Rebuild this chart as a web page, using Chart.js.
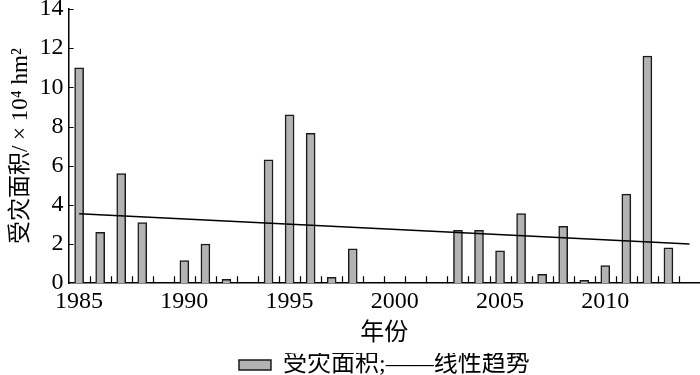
<!DOCTYPE html>
<html>
<head>
<meta charset="utf-8">
<script src="https://cdn.jsdelivr.net/npm/chart.js@4"></script>
<style>
  html, body { margin: 0; padding: 0; background: #fff; }
  #wrap { width: 700px; height: 375px; }
</style>
</head>
<body>
<div id="wrap"><canvas id="areaChart"></canvas></div>
<script>
// years with recorded damage and the affected area (x10^4 hm2)
var years = [1985, 1986, 1987, 1988, 1989, 1990, 1991, 1992, 1993, 1994, 1995, 1996, 1997, 1998, 1999,
             2000, 2001, 2002, 2003, 2004, 2005, 2006, 2007, 2008, 2009, 2010, 2011, 2012, 2013];
var area = [11.0, 2.6, 5.6, 3.1, 0, 1.15, 2.0, 0.2, 0, 6.3, 8.6, 7.65, 0.3, 1.75, 0,
            0, 0, 0, 2.7, 2.7, 1.65, 3.55, 0.45, 2.9, 0.15, 0.9, 4.55, 11.6, 1.8];

// linear trend end points
var trendYears = [1985, 2014];
var trendValues = [3.55, 2.0];

var xTickLabels = [1985, 1990, 1995, 2000, 2005, 2010];
var yTicks = [0, 2, 4, 6, 8, 10, 12, 14];

var serif = "'Liberation Serif', 'Noto Sans CJK SC', serif";

// small tick marks drawn inside the plot, like the original figure
var innerTicks = {
  id: 'innerTicks',
  afterDraw: function(chart) {
    var c = chart.ctx;
    var xs = chart.scales.x, ys = chart.scales.y;
    var bottom = chart.chartArea.bottom, left = chart.chartArea.left;
    c.save();
    c.strokeStyle = '#000';
    c.lineWidth = 1.2;
    c.beginPath();
    for (var v = 1985.5; v < 2014.5; v += 1) {
      var px = Math.round(xs.getPixelForValue(v)) + 0.5;
      c.moveTo(px, bottom);
      c.lineTo(px, bottom - 7);
    }
    for (var i = 1; i < yTicks.length; i++) {
      var py = Math.round(ys.getPixelForValue(yTicks[i])) + 0.5;
      c.moveTo(left, py);
      c.lineTo(left + 5, py);
    }
    c.stroke();
    c.restore();
  }
};

var ctxArea = document.getElementById('areaChart').getContext('2d');
var areaChart = new Chart(ctxArea, {
  type: 'bar',
  data: {
    datasets: [{
      type: 'bar',
      label: '受灾面积',
      data: years.map(function(yr, i) { return { x: yr, y: area[i] }; }),
      backgroundColor: '#b3b3b3',
      borderColor: '#1a1a1a',
      borderWidth: 1.5,
      borderSkipped: 'bottom',
      barThickness: 9,
      order: 2
    }, {
      type: 'line',
      label: '线性趋势',
      data: trendYears.map(function(yr, i) { return { x: yr, y: trendValues[i] }; }),
      borderColor: '#000',
      borderWidth: 1.5,
      pointRadius: 0,
      fill: false,
      order: 1
    }]
  },
  plugins: [innerTicks],
  options: {
    responsive: true,
    maintainAspectRatio: false,
    animation: false,
    layout: { padding: { left: 7, right: 0, top: 0, bottom: -12 } },
    scales: {
      x: {
        type: 'linear',
        offset: false,
        min: 1984.5,
        max: 2014.5,
        afterBuildTicks: function(axis) {
          axis.ticks = xTickLabels.map(function(v) { return { value: v }; });
        },
        grid: { display: false, drawTicks: false },
        border: { display: true, color: '#000', width: 1.5 },
        ticks: {
          color: '#000',
          padding: 4,
          maxRotation: 0,
          autoSkip: false,
          font: { family: serif, size: 24 },
          callback: function(v) { return String(v); }
        },
        title: {
          display: true,
          text: '年份',
          color: '#000',
          padding: { top: 2, bottom: 7 },
          font: { family: serif, size: 24, lineHeight: 1 }
        }
      },
      y: {
        min: 0,
        max: 14,
        afterBuildTicks: function(axis) {
          axis.ticks = yTicks.map(function(v) { return { value: v }; });
        },
        afterFit: function(axis) {
          axis.paddingTop = 9;
        },
        grid: { display: false, drawTicks: false },
        border: { display: true, color: '#000', width: 1.5 },
        ticks: {
          color: '#000',
          padding: 5,
          font: { family: serif, size: 24 }
        },
        title: {
          display: true,
          text: '受灾面积/ × 10⁴ hm²',
          color: '#000',
          padding: { top: 0, bottom: 0 },
          font: { family: serif, size: 23 }
        }
      }
    },
    plugins: {
      tooltip: { enabled: false },
      legend: {
        position: 'bottom',
        fullSize: false,
        labels: {
          color: '#000',
          boxWidth: 32,
          boxHeight: 10,
          padding: 0,
          font: { family: serif, size: 24 },
          generateLabels: function(chart) {
            var ds = chart.data.datasets;
            return [{
              text: ds[0].label + ';——' + ds[1].label,
              fillStyle: ds[0].backgroundColor,
              strokeStyle: ds[0].borderColor,
              lineWidth: 1.5,
              datasetIndex: 0
            }];
          }
        }
      }
    }
  }
});
</script>
</body>
</html>
